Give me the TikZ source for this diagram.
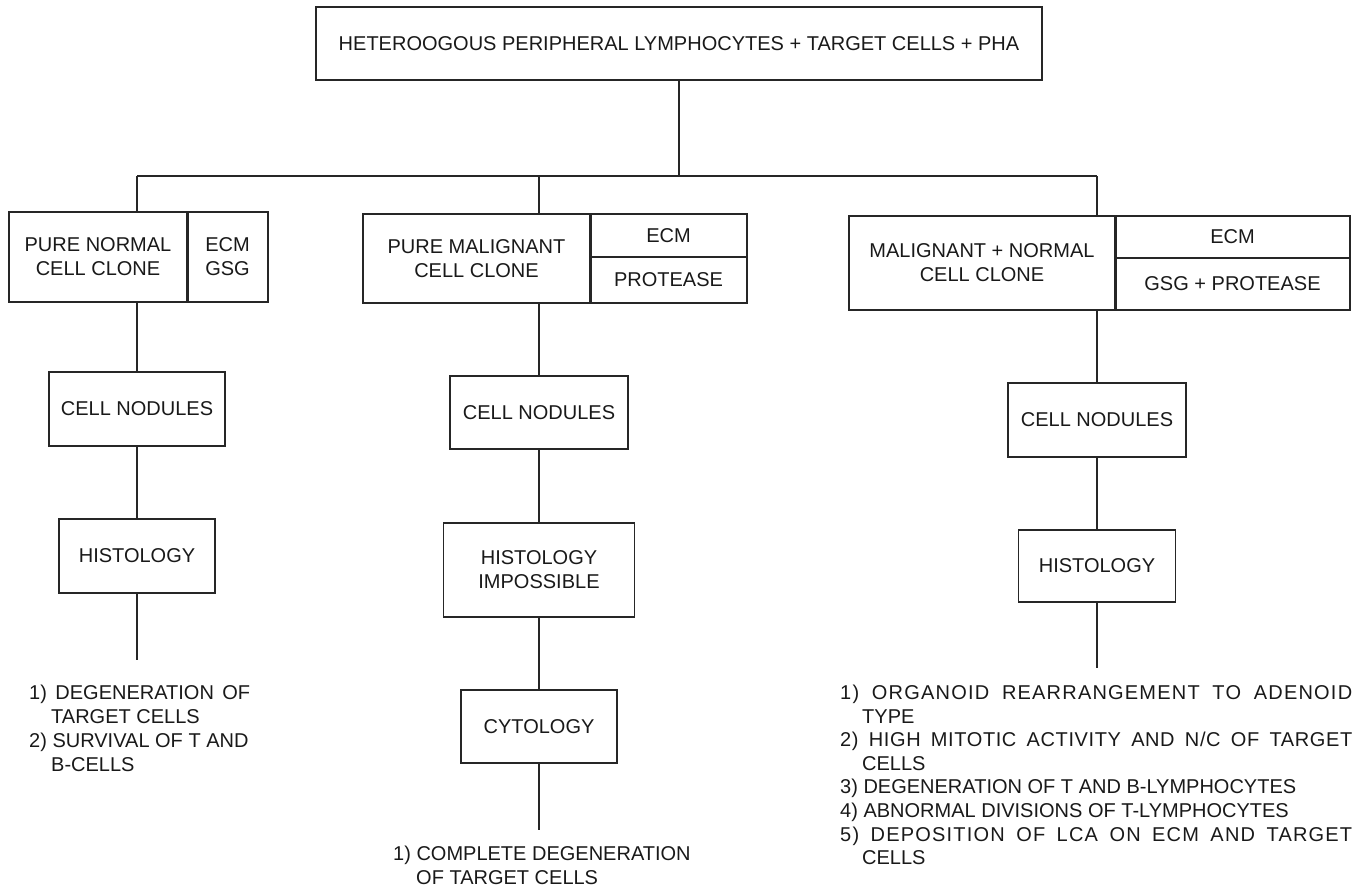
\documentclass[tikz,border=0pt]{standalone}
\usepackage{fontspec}
\setmainfont{Liberation Sans}
\begin{document}
\begin{tikzpicture}[x=1pt,y=-1pt,
  font=\fontsize{20}{24}\selectfont,
  every node/.style={text=black!90},
  box/.style={draw=black!85, line width=1.4pt, inner sep=0pt, align=center},
  link/.style={draw=black!85, line width=1.4pt},
  divider/.style={draw=black!85, line width=2.8pt},
  listtext/.style={inner sep=0pt, align=left, anchor=north west}]
\useasboundingbox (0,0) rectangle (1365,891);

% top box
\node[box, minimum width=726pt, minimum height=73pt] (top) at (679,43.5)
  {HETEROOGOUS PERIPHERAL LYMPHOCYTES + TARGET CELLS + PHA};
\coordinate (bar) at (679,176);
\coordinate (barL) at (137,176);
\coordinate (barM) at (539,176);
\coordinate (barR) at (1097,176);
\draw[link] (top.south) -- (bar);
\draw[link] (barL) -- (barR);

% left compound
\node[box, minimum width=178pt, minimum height=90pt] (Lname) at (98,257) {PURE NORMAL\\CELL CLONE};
\node[box, minimum width=81pt, minimum height=90pt] (Lattr) at (227.5,257) {ECM\\GSG};
\draw[divider] (Lname.north east) -- (Lname.south east);

% middle compound
\node[box, minimum width=227pt, minimum height=89pt] (Mname) at (476.5,258.5) {PURE MALIGNANT\\CELL CLONE};
\node[box, minimum width=157pt, minimum height=43pt] (Mecm) at (668.5,235.5) {ECM};
\node[box, minimum width=157pt, minimum height=46pt] (Mprot) at (668.5,280) {PROTEASE};
\draw[divider] (Mname.north east) -- (Mname.south east);

% right compound
\node[box, minimum width=266pt, minimum height=94pt] (Rname) at (982,263) {MALIGNANT + NORMAL\\CELL CLONE};
\node[box, minimum width=235pt, minimum height=42pt] (Recm) at (1232.5,237) {ECM};
\node[box, minimum width=235pt, minimum height=52pt] (Rprot) at (1232.5,284) {GSG + PROTEASE};
\draw[divider] (Rname.north east) -- (Rname.south east);

% branch drops
\draw[link] (barL) -- (barL |- Lname.north);
\draw[link] (barM) -- (barM |- Mname.north);
\draw[link] (barR) -- (barR |- Rname.north);

% left column
\node[box, minimum width=176pt, minimum height=74pt] (Lnod) at (137,409) {CELL NODULES};
\node[box, minimum width=156pt, minimum height=74pt] (Lhist) at (137,556) {HISTOLOGY};
\coordinate (Lend) at (137,660);
\draw[link] (barL |- Lname.south) -- (Lnod.north);
\draw[link] (Lnod.south) -- (Lhist.north);
\draw[link] (Lhist.south) -- (Lend);
\node[listtext] (Llist) at (29,684.2) {%
  \rule{0pt}{15pt}\makebox[221pt][s]{1) DEGENERATION OF}\\
  \hspace*{22pt}TARGET CELLS\\
  2) SURVIVAL OF T AND\\
  \hspace*{22pt}B-CELLS};

% middle column
\node[box, minimum width=178pt, minimum height=73pt] (Mnod) at (539,412.5) {CELL NODULES};
\node[box, minimum width=191pt, minimum height=94pt] (Mhist) at (539,570) {HISTOLOGY\\IMPOSSIBLE};
\node[box, minimum width=156pt, minimum height=73pt] (Mcyt) at (539,726.5) {CYTOLOGY};
\coordinate (Mend) at (539,830);
\draw[link] (barM |- Mname.south) -- (Mnod.north);
\draw[link] (Mnod.south) -- (Mhist.north);
\draw[link] (Mhist.south) -- (Mcyt.north);
\draw[link] (Mcyt.south) -- (Mend);
\node[listtext] (Mlist) at (393,845) {%
  \rule{0pt}{15pt}1) COMPLETE DEGENERATION\\
  \hspace*{23pt}OF TARGET CELLS};

% right column
\node[box, minimum width=178pt, minimum height=74pt] (Rnod) at (1097,420) {CELL NODULES};
\node[box, minimum width=157pt, minimum height=72pt] (Rhist) at (1097,566) {HISTOLOGY};
\coordinate (Rend) at (1097,668);
\draw[link] (barR |- Rname.south) -- (Rnod.north);
\draw[link] (Rnod.south) -- (Rhist.north);
\draw[link] (Rhist.south) -- (Rend);
\node[listtext, font=\fontsize{20}{23.6}\selectfont] (Rlist) at (840,684.2) {%
  \rule{0pt}{15pt}\makebox[512pt][s]{\addfontfeature{LetterSpace=6}1) ORGANOID REARRANGEMENT TO ADENOID}\\
  \hspace*{22pt}TYPE\\
  \makebox[512pt][s]{\addfontfeature{LetterSpace=3}2) HIGH MITOTIC ACTIVITY AND N/C OF TARGET}\\
  \hspace*{22pt}CELLS\\
  3) DEGENERATION OF T AND B-LYMPHOCYTES\\
  4) ABNORMAL DIVISIONS OF T-LYMPHOCYTES\\
  \makebox[512pt][s]{\addfontfeature{LetterSpace=6}5) DEPOSITION OF LCA ON ECM AND TARGET}\\
  \hspace*{22pt}CELLS};
\end{tikzpicture}
\end{document}
